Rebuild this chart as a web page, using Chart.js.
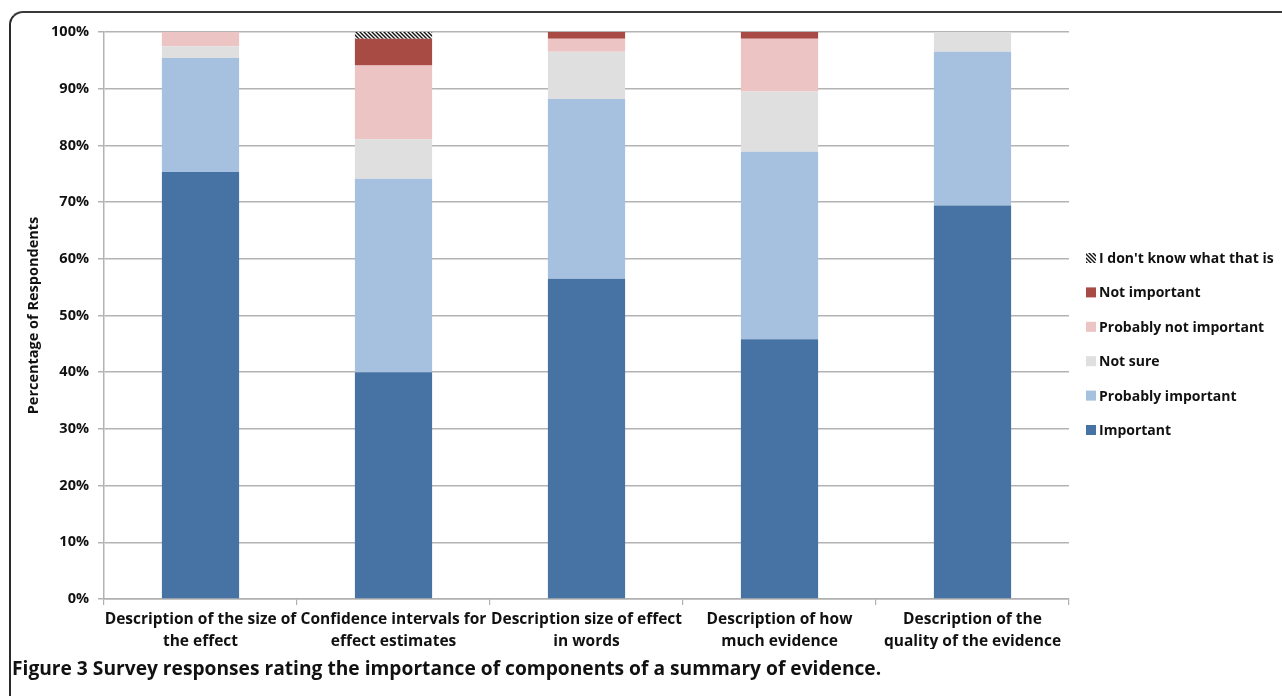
<!DOCTYPE html>
<html>
<head>
<meta charset="utf-8">
<script src="https://cdn.jsdelivr.net/npm/chart.js@4/dist/chart.umd.min.js"></script>
<style>
  html, body { margin: 0; padding: 0; background: #fff; }
  #wrap { position: relative; width: 1282px; height: 696px; overflow: hidden; }
  #frame { position: absolute; left: 9px; top: 11px; width: 1300px; height: 700px;
           border-top: 2px solid #3a3a3a; border-left: 2px solid #2a2a2a;
           border-top-left-radius: 14px; pointer-events: none; }
</style>
</head>
<body>
<div id="wrap">
  <canvas id="c" width="1282" height="696"></canvas>
  <div id="frame"></div>
</div>
<script>
const categories = [
  ["Description of the size of", "the effect"],
  ["Confidence intervals for", "effect estimates"],
  ["Description size of effect", "in words"],
  ["Description of how", "much evidence"],
  ["Description of the", "quality of the evidence"]
];
const seriesNames = ["Important", "Probably important", "Not sure", "Probably not important", "Not important", "I don't know what that is"];
const important          = [75.3, 40.0, 56.5, 45.8, 69.4];
const probablyImportant  = [20.1, 34.1, 31.7, 33.1, 27.1];
const notSure            = [2.1, 7.0, 8.3, 10.6, 3.5];
const probablyNotImp     = [2.5, 13.0, 2.3, 9.3, 0];
const notImportant       = [0, 4.7, 1.2, 1.2, 0];
const dontKnow           = [0, 1.2, 0, 0, 0];
const yTicks = [0,10,20,30,40,50,60,70,80,90,100];
const caption = ["Figure 3", " Survey responses rating the importance of components of a summary of evidence."];

const FONT = "'Open Sans', Lato, sans-serif";

function hatch() {
  const p = document.createElement('canvas');
  p.width = 4; p.height = 4;
  const g = p.getContext('2d');
  g.fillStyle = '#fff'; g.fillRect(0,0,4,4);
  g.strokeStyle = '#111'; g.lineWidth = 1.4;
  g.beginPath();
  g.moveTo(-1,-1); g.lineTo(5,5);
  g.moveTo(3,-1); g.lineTo(5,1);
  g.moveTo(-1,3); g.lineTo(1,5);
  g.stroke();
  return g.createPattern(p, 'repeat');
}
const ctx0 = document.getElementById('c').getContext('2d');
const hatchPat = hatch();

const colors = ['#4673a3', '#a6c0df', '#dfdfdf', '#ecc4c4', '#a84b45', hatchPat];
const values = [important, probablyImportant, notSure, probablyNotImp, notImportant, dontKnow];

const datasets = values.map((v, i) => ({
  label: seriesNames[i],
  data: v,
  backgroundColor: colors[i],
  borderWidth: 0,
  categoryPercentage: 1.0,
  barPercentage: 0.4
}));

const legendPlugin = {
  id: 'customLegend',
  afterDraw(chart) {
    const c = chart.ctx;
    c.save();
    const x0 = 1086, y0 = 258, step = 34.4;
    c.font = "bold 14px " + FONT;
    c.textBaseline = 'middle';
    c.textAlign = 'left';
    const n = chart.data.datasets.length;
    for (let k = 0; k < n; k++) {
      const ds = chart.data.datasets[n - 1 - k];
      const y = y0 + k * step;
      c.fillStyle = ds.backgroundColor;
      c.fillRect(x0, y - 5, 10, 10);
      c.fillStyle = '#111';
      c.fillText(ds.label, x0 + 13, y + 1);
    }
    c.restore();
  }
};

const captionPlugin = {
  id: 'caption',
  afterDraw(chart) {
    const c = chart.ctx;
    c.save();
    c.textBaseline = 'middle';
    c.textAlign = 'left';
    c.fillStyle = '#111';
    c.font = "bold 19.2px " + FONT;
    c.fillText(caption[0], 12, 670);
    const w = c.measureText(caption[0]).width;
    c.fillText(caption[1], 12 + w, 670);
    c.restore();
  }
};

new Chart(ctx0, {
  type: 'bar',
  data: { labels: categories, datasets },
  plugins: [legendPlugin, captionPlugin],
  options: {
    responsive: false,
    animation: false,
    devicePixelRatio: 1,
    layout: { padding: { left: 0, right: 213, top: 32, bottom: 47 } },
    plugins: { legend: { display: false }, tooltip: { enabled: false }, title: { display: false } },
    scales: {
      x: {
        stacked: true,
        grid: { drawOnChartArea: false, drawTicks: true, tickLength: 6, color: '#b0b0b0', lineWidth: 1.2, offset: true },
        border: { color: '#b0b0b0', width: 1.5 },
        ticks: { color: '#111', font: { family: FONT, size: 15.5, weight: 'bold', lineHeight: 1.42 }, padding: 4, maxRotation: 0, autoSkip: false },
        afterFit(scale) { scale.height = 50; }
      },
      y: {
        stacked: true,
        min: 0, max: 100,
        afterBuildTicks(scale) { scale.ticks = yTicks.map(v => ({ value: v })); },
        grid: { color: '#b3b3b3', lineWidth: 1.5, tickLength: 6 },
        border: { color: '#b3b3b3', width: 1.5 },
        ticks: { color: '#111', font: { family: FONT, size: 14.5, weight: 'bold' }, padding: 9, callback: v => v + '%' },
        title: { display: true, text: 'Percentage of Respondents', color: '#111', font: { family: FONT, size: 14.5, weight: 'bold' }, padding: { top: 25, bottom: 0 } },
        afterFit(scale) { scale.width = 104; }
      }
    }
  }
});
</script>
</body>
</html>
